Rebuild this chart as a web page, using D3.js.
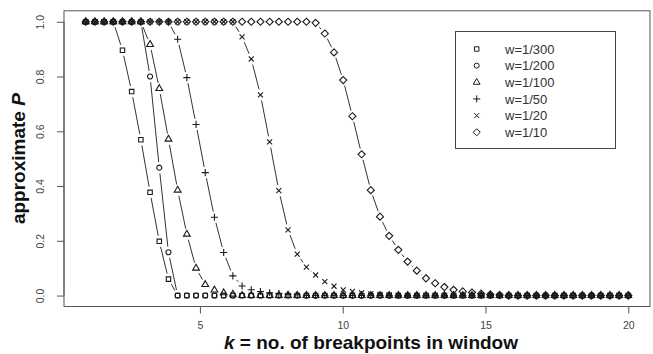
<!DOCTYPE html>
<html>
<head>
<meta charset="utf-8">
<script src="https://cdn.jsdelivr.net/npm/d3@7"></script>
<style>
  html, body { margin: 0; padding: 0; background: #fff; }
  svg { display: block; font-family: "Liberation Sans", Arial, Helvetica, sans-serif; }
</style>
</head>
<body>
<svg id="chart" width="653" height="354"></svg>
<script>
// ---- data ----
const kValues = [1.000,1.322,1.644,1.966,2.288,2.610,2.932,3.254,3.576,3.898,
  4.220,4.542,4.864,5.186,5.508,5.831,6.153,6.475,6.797,7.119,
  7.441,7.763,8.085,8.407,8.729,9.051,9.373,9.695,10.017,10.339,
  10.661,10.983,11.305,11.627,11.949,12.271,12.593,12.915,13.237,13.559,
  13.881,14.203,14.525,14.847,15.169,15.492,15.814,16.136,16.458,16.780,
  17.102,17.424,17.746,18.068,18.390,18.712,19.034,19.356,19.678,20.000];

const pW300 = [1,1,1,1,0.896,0.745,0.569,0.377,0.198,0.060,
  0,0,0,0,0,0,0,0,0,0, 0,0,0,0,0,0,0,0,0,0,
  0,0,0,0,0,0,0,0,0,0, 0,0,0,0,0,0,0,0,0,0, 0,0,0,0,0,0,0,0,0,0];
const pW200 = [1,1,1,1,1,1,1,0.800,0.467,0.158,
  0,0,0,0,0,0,0,0,0,0, 0,0,0,0,0,0,0,0,0,0,
  0,0,0,0,0,0,0,0,0,0, 0,0,0,0,0,0,0,0,0,0, 0,0,0,0,0,0,0,0,0,0];
const pW100 = [1,1,1,1,1,1,1,0.917,0.756,0.571,
  0.385,0.224,0.100,0.040,0.020,0.010,0.005,0,0,0, 0,0,0,0,0,0,0,0,0,0,
  0,0,0,0,0,0,0,0,0,0, 0,0,0,0,0,0,0,0,0,0, 0,0,0,0,0,0,0,0,0,0];
const pW50 = [1,1,1,1,1,1,1,1,1,1,
  0.936,0.796,0.625,0.449,0.286,0.157,0.072,0.035,0.021,0.015,
  0.010,0.007,0.005,0.003,0,0,0,0,0,0,
  0,0,0,0,0,0,0,0,0,0, 0,0,0,0,0,0,0,0,0,0, 0,0,0,0,0,0,0,0,0,0];
const pW20 = [1,1,1,1,1,1,1,1,1,1, 1,1,1,1,1,1,1,
  0.945,0.864,0.733,0.561,0.383,0.240,0.151,0.104,0.075,0.051,0.034,0.021,0.015,
  0.010,0.006,0.004,0.002,0,0,0,0,0,0,
  0,0,0,0,0,0,0,0,0,0, 0,0,0,0,0,0,0,0,0,0];
const pW10 = [1,1,1,1,1,1,1,1,1,1, 1,1,1,1,1,1,1,1,1,1, 1,1,1,1,1,0.996,
  0.957,0.888,0.787,0.655,0.516,0.385,0.288,0.218,0.167,0.124,0.091,0.063,0.045,0.031,
  0.021,0.015,0.011,0.007,0.004,0.002,0,0,0,0,
  0,0,0,0,0,0,0,0,0,0];

const seriesLabels = ["w=1/300","w=1/200","w=1/100","w=1/50","w=1/20","w=1/10"];
const seriesSymbols = ["square","circle","triangle","plus","times","diamond"];
const seriesValues = [pW300, pW200, pW100, pW50, pW20, pW10];

const xTicks = [5, 10, 15, 20];
const yTicks = [0, 0.2, 0.4, 0.6, 0.8, 1.0];

// ---- layout ----
const svg = d3.select("#chart");
const plotLeft = 64, plotRight = 650, plotTop = 10.8, plotBottom = 306.5;

const x = d3.scaleLinear().domain([0.24, 20.76]).range([plotLeft, plotRight]);
const y = d3.scaleLinear().domain([-0.04, 1.04]).range([plotBottom, plotTop]);

const ink = "#1a1a1a";
const axisCol = "#555";
const labelCol = "#444";

// symbol shapes (R pch proportions)
const u = 6.7;
function symbolPath(type) {
  const p = d3.path();
  if (type === "square") {
    const h = 0.332 * u;
    p.rect(-h, -h, 2 * h, 2 * h);
  } else if (type === "circle") {
    const r = 0.375 * u;
    p.moveTo(r, 0); p.arc(0, 0, r, 0, 2 * Math.PI);
  } else if (type === "triangle") {
    const b = 0.375 * u;
    const r = 1.5551 * b, yc = r / 2, xc = r * Math.sqrt(3) / 2;
    p.moveTo(0, -r); p.lineTo(xc, yc); p.lineTo(-xc, yc); p.closePath();
  } else if (type === "plus") {
    const h = Math.SQRT2 * 0.375 * u;
    p.moveTo(-h, 0); p.lineTo(h, 0); p.moveTo(0, -h); p.lineTo(0, h);
  } else if (type === "times") {
    const h = 0.375 * u;
    p.moveTo(-h, -h); p.lineTo(h, h); p.moveTo(-h, h); p.lineTo(h, -h);
  } else if (type === "diamond") {
    const h = Math.SQRT2 * 0.375 * u;
    p.moveTo(0, -h); p.lineTo(h, 0); p.lineTo(0, h); p.lineTo(-h, 0); p.closePath();
  }
  return p.toString();
}

// ---- box ----
svg.append("rect")
  .attr("x", plotLeft).attr("y", plotTop)
  .attr("width", plotRight - plotLeft).attr("height", plotBottom - plotTop)
  .attr("fill", "none").attr("stroke", axisCol).attr("stroke-width", 1);

// ---- axes ----
const xAxis = d3.axisBottom(x).tickValues(xTicks).tickSize(7).tickPadding(4).tickFormat(d3.format("d"));
const gx = svg.append("g").attr("transform", `translate(0,${plotBottom})`).call(xAxis);
gx.select(".domain").attr("d", `M${x(xTicks[0])},0H${x(xTicks[xTicks.length - 1])}`).attr("stroke", axisCol);
gx.selectAll(".tick line").attr("stroke", axisCol);
gx.selectAll(".tick text").attr("fill", labelCol).attr("font-size", "10.5px")
  .attr("font-family", "'Liberation Sans', Arial, sans-serif").attr("dy", null).attr("y", 22.5);

const yAxis = d3.axisLeft(y).tickValues(yTicks).tickSize(7).tickFormat(d3.format(".1f"));
const gy = svg.append("g").attr("transform", `translate(${plotLeft},0)`).call(yAxis);
gy.select(".domain").attr("d", `M0,${y(yTicks[0])}V${y(yTicks[yTicks.length - 1])}`).attr("stroke", axisCol);
gy.selectAll(".tick line").attr("stroke", axisCol);
gy.selectAll(".tick text")
  .attr("fill", labelCol).attr("font-size", "10.5px")
  .attr("font-family", "'Liberation Sans', Arial, sans-serif")
  .attr("x", null).attr("dy", null)
  .attr("text-anchor", "middle")
  .attr("transform", "translate(-20.3,0) rotate(-90)");

// ---- series ----
const gap = 5.7;
seriesValues.forEach((vals, si) => {
  const pts = vals.map((v, i) => [x(kValues[i]), y(v)]);
  const g = svg.append("g");
  // connecting segments with gaps (type = "b")
  for (let i = 0; i < pts.length - 1; i++) {
    const [x0, y0] = pts[i], [x1, y1] = pts[i + 1];
    const dx = x1 - x0, dy = y1 - y0, len = Math.hypot(dx, dy);
    if (len > 2 * gap + 0.5) {
      const f = gap / len;
      g.append("line")
        .attr("x1", x0 + dx * f).attr("y1", y0 + dy * f)
        .attr("x2", x1 - dx * f).attr("y2", y1 - dy * f)
        .attr("stroke", "#333").attr("stroke-width", 1);
    }
  }
  const sp = symbolPath(seriesSymbols[si]);
  g.selectAll("path.pt").data(pts).join("path")
    .attr("class", "pt")
    .attr("d", sp)
    .attr("transform", d => `translate(${d[0]},${d[1]})`)
    .attr("fill", "none").attr("stroke", ink).attr("stroke-width", 1.1);
});

// ---- legend ----
const lg = svg.append("g");
lg.append("rect").attr("x", 455.5).attr("y", 31.5).attr("width", 160).attr("height", 117)
  .attr("fill", "#fff").attr("stroke", "#444").attr("stroke-width", 1);
seriesLabels.forEach((lab, i) => {
  const cy = 49 + i * 16.65;
  lg.append("path").attr("d", symbolPath(seriesSymbols[i]))
    .attr("transform", `translate(476.7,${cy})`)
    .attr("fill", "none").attr("stroke", ink).attr("stroke-width", 1);
  lg.append("text").attr("x", 505).attr("y", cy + 4.6)
    .attr("font-size", "13px").attr("fill", "#333").text(lab);
});

// ---- titles ----
const xt = svg.append("text").attr("x", 371).attr("y", 349.3)
  .attr("text-anchor", "middle").attr("font-size", "19px").attr("font-weight", "bold").attr("fill", "#111");
xt.append("tspan").attr("font-style", "italic").text("k");
xt.append("tspan").text(" = no. of breakpoints in window");

const yt = svg.append("text")
  .attr("transform", `translate(25,${(plotTop + plotBottom) / 2}) rotate(-90)`)
  .attr("text-anchor", "middle").attr("font-size", "19px").attr("font-weight", "bold").attr("fill", "#111");
yt.append("tspan").text("approximate ");
yt.append("tspan").attr("font-style", "italic").text("P");
</script>
</body>
</html>
